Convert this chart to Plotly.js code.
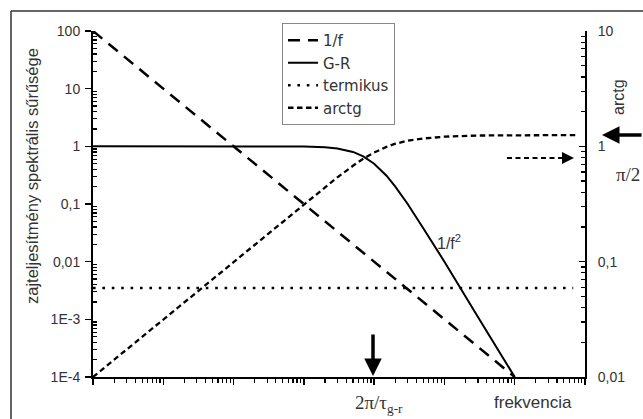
<!DOCTYPE html>
<html>
<head>
<meta charset="utf-8">
<script src="https://cdn.plot.ly/plotly-3.0.1.min.js"></script>
<style>
html,body{margin:0;padding:0;background:#fff;}
#chart{width:643px;height:419px;}
</style>
</head>
<body>
<div id="chart"></div>
<script>
// ---- data ----
const seriesNames = ["1/f", "G-R", "termikus", "arctg"];

const freq1f = [1, 1e6];
const val1f = [100, 1e-4];

const freqGR = [1, 100, 1000, 2000, 3000, 5000, 7000, 1e4, 1.5e4, 2e4, 3e4, 5e4, 1e5, 3e5, 1e6];
const valGR = [1, 1, 0.99, 0.96, 0.92, 0.8, 0.67, 0.5, 0.31, 0.2, 0.1, 0.038, 0.01, 0.0011, 1e-4];

const freqTerm = [1, 6.8e6];
const valTerm = [0.0035, 0.0035];

const freqArc = [1, 10, 100, 1000, 2000, 3000, 5000, 7000, 1e4, 1.5e4, 2e4, 3e4, 5e4, 1e5, 3e5, 1e6, 8e6];
const valArc = [1e-4, 1e-3, 0.01, 0.1, 0.2, 0.29, 0.46, 0.61, 0.78, 0.98, 1.11, 1.25, 1.37, 1.47, 1.54, 1.56, 1.57];

const leftTickVals = [100, 10, 1, 0.1, 0.01, 0.001, 0.0001];
const leftTickText = ["100", "10", "1", "0,1", "0,01", "1E-3", "1E-4"];
const rightTickVals = [10, 1, 0.1, 0.01];
const rightTickText = ["10", "1", "0,1", "0,01"];

// ---- chart ----
const sans = "Arial, 'Liberation Sans', sans-serif";
const wide = "'DejaVu Sans', Arial, sans-serif";
const serif = "'Times New Roman', 'Liberation Serif', serif";
const txt = "#333";

function minorVals(lo, hi) {
  const v = [];
  for (let e = lo; e < hi; e++) for (let m = 2; m <= 9; m++) v.push(m * Math.pow(10, e));
  return v;
}

const traces = [
  {x: freq1f, y: val1f, name: seriesNames[0], mode: "lines",
   line: {color: "#000", width: 2.5, dash: "12px,8px"}},
  {x: freqGR, y: valGR, name: seriesNames[1], mode: "lines",
   line: {color: "#000", width: 2}},
  {x: freqTerm, y: valTerm, name: seriesNames[2], mode: "lines",
   line: {color: "#000", width: 2.6, dash: "2.6px,6.8px"}},
  {x: freqArc, y: valArc, name: seriesNames[3], mode: "lines",
   line: {color: "#000", width: 2.3, dash: "5.5px,3.5px"}},
  {x: [1], y: [1], yaxis: "y2", mode: "lines", showlegend: false, hoverinfo: "skip"}
];

function px2x(p){ return (p - 93) / 492; }
function px2y(p){ return (377 - p) / 346; }

function label(px, py, text, font, extra) {
  return Object.assign({xref: "paper", yref: "paper", x: px2x(px), y: px2y(py), text: text,
    xanchor: "center", yanchor: "middle", showarrow: false, font: font}, extra || {});
}

const layout = {
  width: 643, height: 419,
  margin: {l: 93, r: 58, t: 31, b: 42},
  paper_bgcolor: "#fff", plot_bgcolor: "#fff",
  font: {family: sans, color: txt, size: 14},
  showlegend: true,
  legend: {
    x: px2x(282), y: px2y(23), xanchor: "left", yanchor: "top",
    bordercolor: "#888", borderwidth: 1, bgcolor: "#fff",
    font: {family: wide, size: 15, color: txt},
    itemwidth: 30, tracegroupgap: 0
  },
  xaxis: {
    type: "log", range: [0, 7],
    showline: true, linecolor: "#000", linewidth: 2,
    showgrid: false, zeroline: false,
    ticks: "outside", ticklen: 6, tickwidth: 1.5, tickcolor: "#000",
    dtick: 1, showticklabels: false,
    minor: {tickmode: "array", tickvals: minorVals(0, 7), ticks: "outside", ticklen: 4,
            tickwidth: 1.2, tickcolor: "#000", showgrid: false}
  },
  yaxis: {
    type: "log", range: [-4, 2],
    showline: true, linecolor: "#000", linewidth: 2,
    showgrid: false, zeroline: false,
    tickmode: "array", tickvals: leftTickVals, ticktext: leftTickText,
    ticks: "outside", ticklen: 6, tickwidth: 1.5, tickcolor: "#000",
    ticklabelstandoff: 2,
    tickfont: {family: sans, size: 14, color: txt},
    minor: {tickmode: "array", tickvals: minorVals(-4, 2), ticks: "inside", ticklen: 4,
            tickwidth: 1.2, tickcolor: "#000", showgrid: false}
  },
  yaxis2: {
    type: "log", range: [-2, 1], overlaying: "y", side: "right", anchor: "x",
    showline: true, linecolor: "#000", linewidth: 2,
    showgrid: false, zeroline: false,
    tickmode: "array", tickvals: rightTickVals, ticktext: rightTickText,
    ticks: "inside", ticklen: 6, tickwidth: 1.5, tickcolor: "#000",
    ticklabelstandoff: 8,
    tickfont: {family: sans, size: 14, color: txt},
    minor: {tickmode: "array", tickvals: minorVals(-2, 1), ticks: "inside", ticklen: 4,
            tickwidth: 1.2, tickcolor: "#000", showgrid: false}
  },
  shapes: [
    // outer frame (top and left edges)
    {type: "line", xref: "paper", yref: "paper", x0: px2x(11), x1: px2x(650), y0: px2y(11), y1: px2y(11),
     line: {color: "#333", width: 1.5}},
    {type: "line", xref: "paper", yref: "paper", x0: px2x(11), x1: px2x(11), y0: px2y(11), y1: px2y(425),
     line: {color: "#333", width: 1.5}},
    // dashed arrow shaft
    {type: "line", xref: "paper", yref: "paper", x0: px2x(507), x1: px2x(566), y0: px2y(158), y1: px2y(158),
     line: {color: "#000", width: 2, dash: "5px,3.5px"}}
  ],
  annotations: [
    label(32, 176, "zajteljesítmény spektrális sűrűsége", {family: sans, size: 16.5, color: txt}, {textangle: -90}),
    label(619, 97, "arctg", {family: sans, size: 16, color: txt}, {textangle: -90}),
    label(533, 402, "frekvencia", {family: sans, size: 17, color: txt}),
    label(449, 242, "1/f<sup>2</sup>", {family: sans, size: 16, color: txt}),
    label(379, 404, "2π/τ<sub>g-r</sub>", {family: serif, size: 19, color: txt}),
    label(614, 174, "π/2", {family: serif, size: 19, color: txt}, {xanchor: "left"}),
    // down arrow at 2π/τ
    {xref: "paper", yref: "paper", x: px2x(373), y: px2y(376), text: "", showarrow: true,
     ax: 0, ay: -43, arrowhead: 2, arrowsize: 1, arrowwidth: 3.5, arrowcolor: "#000", standoff: 0},
    // left arrow at π/2
    {xref: "paper", yref: "paper", x: px2x(602), y: px2y(135), text: "", showarrow: true,
     ax: 50, ay: 0, arrowhead: 2, arrowsize: 1, arrowwidth: 3.5, arrowcolor: "#000", standoff: 0},
    // head of dashed arrow
    {xref: "paper", yref: "paper", x: px2x(574), y: px2y(158), text: "", showarrow: true,
     ax: -9, ay: 0, arrowhead: 2, arrowsize: 1.6, arrowwidth: 1.5, arrowcolor: "#000", standoff: 0}
  ]
};

Plotly.newPlot("chart", traces, layout, {displayModeBar: false, staticPlot: true});
</script>
</body>
</html>
